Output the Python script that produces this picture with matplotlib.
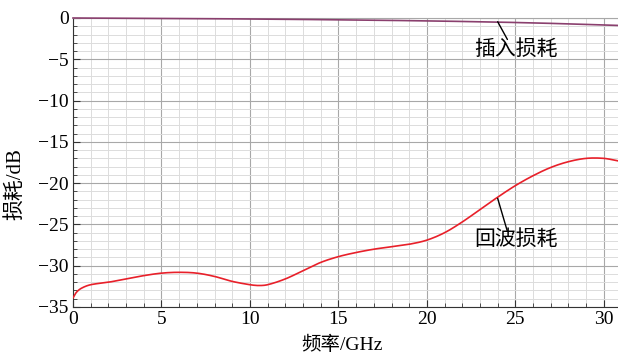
import matplotlib.pyplot as plt
import numpy as np
from matplotlib.ticker import MultipleLocator

plt.rcParams['font.family'] = ['Liberation Serif', 'Noto Sans CJK SC']
plt.rcParams['axes.unicode_minus'] = True

# frequency points (GHz) and measured losses (dB)
freq_rl = [0, 0.2, 0.5, 1, 2, 3, 4, 5, 6, 7, 8, 9, 10, 10.5, 11, 12, 13, 14, 15,
           16, 17, 18, 19, 20, 21, 22, 23, 24, 25, 26, 27, 28, 29, 30, 30.8]
return_loss = [-33.9, -33.2, -32.7, -32.3, -32.0, -31.6, -31.2, -30.9, -30.8, -30.9,
               -31.3, -31.9, -32.3, -32.4, -32.3, -31.6, -30.6, -29.6, -28.9,
               -28.4, -28.0, -27.7, -27.4, -26.9, -26.0, -24.7, -23.2, -21.7, -20.3,
               -19.1, -18.1, -17.4, -17.0, -17.0, -17.3]
freq_il = [0, 5, 10, 15, 20, 24, 27, 30.8]
insertion_loss = [0.0, -0.05, -0.12, -0.22, -0.35, -0.5, -0.65, -0.9]


def smooth(x, y, n=400):
    """piecewise cubic hermite through the sampled points"""
    x = np.asarray(x, float)
    y = np.asarray(y, float)
    xs = np.linspace(x[0], x[-1], n)
    ys = np.empty_like(xs)
    for i in range(len(x) - 1):
        m = (xs >= x[i]) & (xs <= x[i + 1])
        x0, x1 = x[i], x[i + 1]
        y0, y1 = y[i], y[i + 1]
        d0 = (y[i + 1] - y[i - 1]) / (x[i + 1] - x[i - 1]) if i > 0 else (y1 - y0) / (x1 - x0)
        d1 = (y[i + 2] - y[i]) / (x[i + 2] - x[i]) if i < len(x) - 2 else (y1 - y0) / (x1 - x0)
        h = x1 - x0
        t = (xs[m] - x0) / h
        ys[m] = ((2*t**3 - 3*t**2 + 1) * y0 + (t**3 - 2*t**2 + t) * h * d0
                 + (-2*t**3 + 3*t**2) * y1 + (t**3 - t**2) * h * d1)
    return xs, ys


fig = plt.figure(figsize=(6.18, 3.57), dpi=100)
ax = fig.add_axes([73/618, 50/357, 545/618, 289/357])

xs, ys = smooth(freq_rl, return_loss)
ax.plot(xs, ys, color='#e8202a', lw=1.2, zorder=3)
xi, yi = smooth(freq_il, insertion_loss)
ax.plot(xi, yi, color='#8a3f6e', lw=1.2, zorder=3, clip_on=False)

ax.set_xlim(0, 30.8)
ax.set_ylim(-35, 0)
ax.xaxis.set_major_locator(MultipleLocator(5))
ax.xaxis.set_minor_locator(MultipleLocator(1))
ax.yaxis.set_major_locator(MultipleLocator(5))
ax.yaxis.set_minor_locator(MultipleLocator(1))
ax.grid(which='major', color='#a8a8a8', lw=0.8)
ax.grid(which='minor', color='#dcdcdc', lw=0.7)
ax.set_axisbelow(True)

ax.tick_params(which='both', direction='in', top=False, right=False,
               labelsize=14, pad=3)
ax.tick_params(which='major', length=5, color='#333333')
ax.tick_params(which='minor', length=3, color='#333333')
for s in ['left', 'bottom']:
    ax.spines[s].set_color('#333333')
ax.spines['top'].set_color('#a8a8a8')
ax.spines['right'].set_visible(False)

ax.set_xlabel('频率/GHz', fontsize=14)
ax.set_ylabel('损耗/dB', fontsize=15)
ax.xaxis.set_label_coords(0.494, -0.10)
ax.yaxis.set_label_coords(-0.088, 0.426)

# curve labels with leader lines
ax.annotate('', xy=(24.0, -0.45), xytext=(24.55, -2.6),
            arrowprops=dict(arrowstyle='-', color='black', lw=1,
                            shrinkA=0, shrinkB=0))
ax.text(25.05, -3.9, '插入损耗', fontsize=15, ha='center', va='center')
ax.annotate('', xy=(24.0, -21.85), xytext=(24.55, -25.85),
            arrowprops=dict(arrowstyle='-', color='black', lw=1,
                            shrinkA=0, shrinkB=0))
ax.text(25.05, -26.9, '回波损耗', fontsize=15, ha='center', va='center')

fig.savefig('out.png', dpi=100)
